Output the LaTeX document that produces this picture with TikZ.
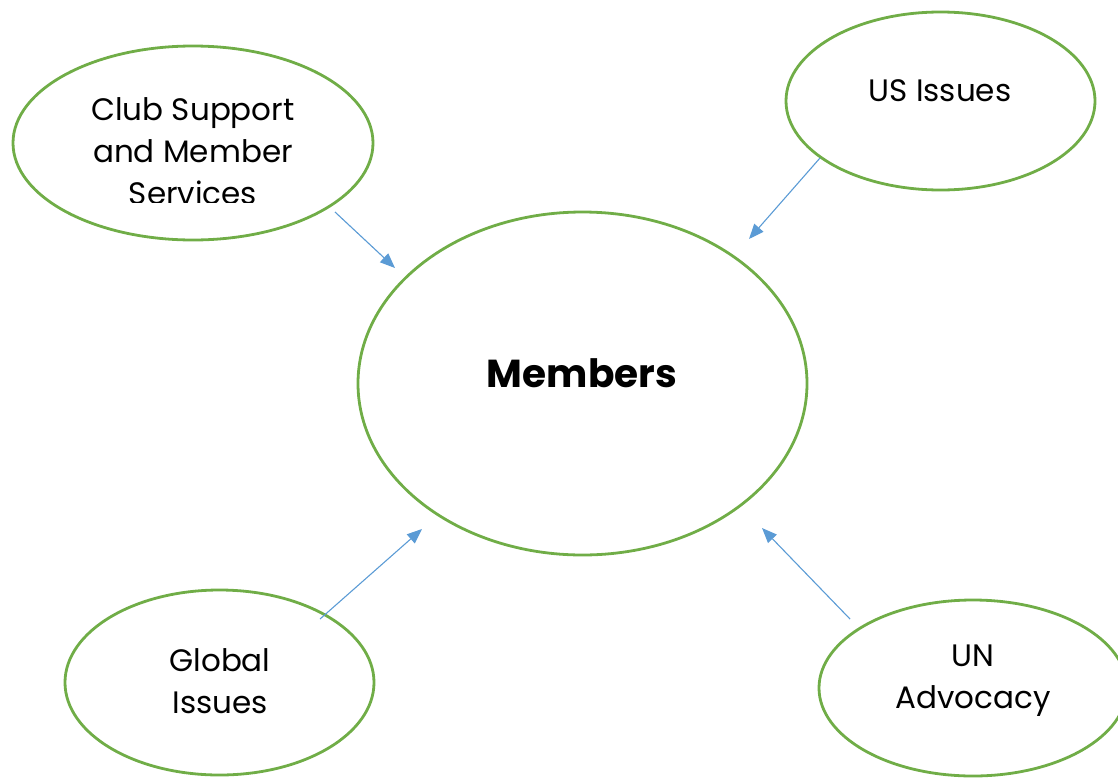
\documentclass[tikz,border=0pt]{standalone}
\usepackage{fontspec}
\setmainfont{Poppins}
\usetikzlibrary{shapes.geometric,arrows.meta}
\definecolor{leaf}{HTML}{70AD47}
\definecolor{sky}{HTML}{5B9BD5}
\begin{document}
\begin{tikzpicture}[x=1pt,y=-1pt,
  bubble/.style={ellipse, draw=leaf, line width=2.8pt, inner sep=0pt},
  label/.style={align=center, inner sep=0pt, font=\fontsize{31}{42}\selectfont},
  link/.style={draw=sky, line width=1.1pt, -{Triangle[length=15pt,width=12pt]}}]
\useasboundingbox (0,0) rectangle (1118,779);

% topic bubbles
\node[bubble, minimum width=360pt, minimum height=194pt] (club) at (193,143) {};
\node[bubble, minimum width=309pt, minimum height=178pt] (us) at (940.5,101) {};
\node[bubble, minimum width=449pt, minimum height=343pt] (members) at (582.5,383.5) {};
\node[bubble, minimum width=309pt, minimum height=185pt] (global) at (219.5,682.5) {};
\node[bubble, minimum width=308pt, minimum height=176pt] (un) at (973,688) {};

% texts; the last line of the club bubble is cut off at its foot
\begin{scope}
  \clip (0,0) rectangle (1118,202);
  \node[label] (clubtext) at (193,151) {Club Support\\and Member\\Services};
\end{scope}
\node[label] (ustext) at (940,91) {US Issues};
\node[label, font=\bfseries\fontsize{39}{44}\selectfont] (memtext) at (582,373) {Members};
\node[label] (globaltext) at (220,681) {Global\\Issues};
\node[label] (untext) at (973,681) {UN\\Advocacy};

% arrow ends
\coordinate (c1) at (335,212);
\coordinate (c2) at (395,268);
\coordinate (u1) at (820,158);
\coordinate (u2) at (749,239);
\coordinate (g1) at (320,619);
\coordinate (g2) at (422,529);
\coordinate (n1) at (850,619);
\coordinate (n2) at (762,528);

\draw[link] (c1) -- (c2);
\draw[link] (u1) -- (u2);
\draw[link] (g1) -- (g2);
\draw[link] (n1) -- (n2);
\end{tikzpicture}
\end{document}
